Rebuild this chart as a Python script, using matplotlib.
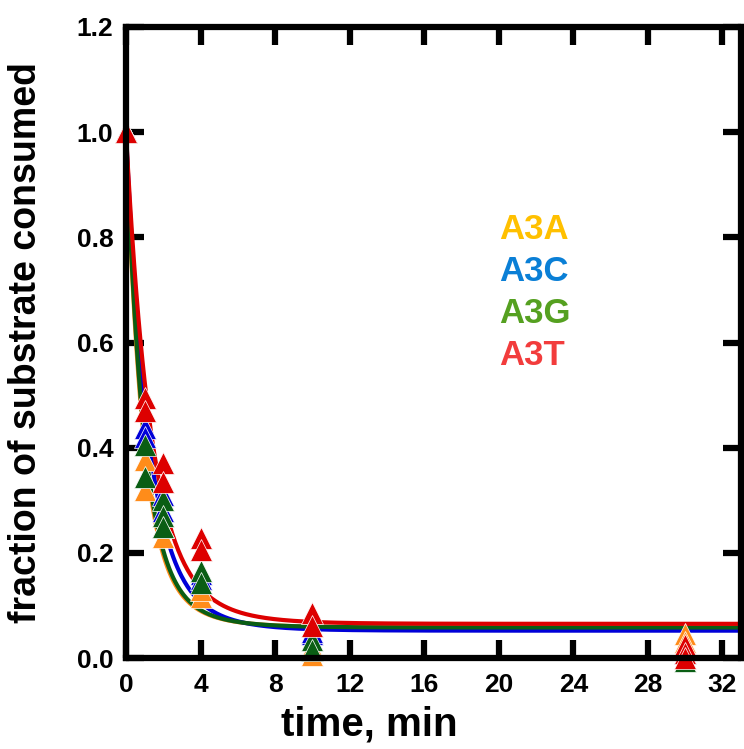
import numpy as np
import matplotlib
matplotlib.use("Agg")
import matplotlib.pyplot as plt

# ---- data ----
series_names = ["A3A", "A3C", "A3G", "A3T"]
marker_colors = ["#FF8C1A", "#0000D8", "#0A5E14", "#DD0000"]
label_colors = ["#FFC000", "#0A7FD6", "#55A020", "#F23C3C"]

a3a_t = [0, 1, 1, 2, 2, 4, 4, 10, 10, 30, 30]
a3a_y = [1.0, 0.376, 0.32, 0.23, 0.25, 0.116, 0.13, 0.005, 0.02, 0.045, 0.03]
a3c_t = [0, 1, 1, 2, 2, 4, 4, 10, 10, 30]
a3c_y = [1.0, 0.437, 0.42, 0.31, 0.28, 0.16, 0.15, 0.045, 0.05, 0.01]
a3g_t = [0, 1, 1, 2, 2, 2, 4, 4, 10, 10, 30]
a3g_y = [1.0, 0.405, 0.344, 0.30, 0.27, 0.25, 0.165, 0.143, 0.035, 0.015, -0.005]
a3t_t = [0, 1, 1, 2, 2, 4, 4, 10, 10, 30, 30, 30]
a3t_y = [1.0, 0.494, 0.47, 0.37, 0.335, 0.228, 0.205, 0.085, 0.06, 0.025, 0.01, 0.0]

times = [a3a_t, a3c_t, a3g_t, a3t_t]
values = [a3a_y, a3c_y, a3g_y, a3t_y]

# fitted decay parameters: plateau, fast amplitude, fast rate, slow rate
fit_plateau = [0.058, 0.052, 0.058, 0.065]
fit_amp_fast = [0.80, 0.77, 0.80, 0.75]
fit_k_fast = [1.15, 0.90, 1.10, 0.80]
fit_k_slow = [0.45, 0.42, 0.45, 0.40]

x_ticks = [0, 4, 8, 12, 16, 20, 24, 28, 32]
y_ticks = [0.0, 0.2, 0.4, 0.6, 0.8, 1.0, 1.2]

# ---- figure ----
fig = plt.figure(figsize=(7.44, 7.49), dpi=100)
ax = fig.add_axes([126 / 744, 1 - 658 / 749, (741 - 126) / 744, (658 - 27) / 749])

tt = np.linspace(0, 33, 600)
for i in range(4):
    C = fit_plateau[i]
    A1 = fit_amp_fast[i]
    A2 = 1.0 - C - A1
    curve = C + A1 * np.exp(-fit_k_fast[i] * tt) + A2 * np.exp(-fit_k_slow[i] * tt)
    ax.plot(tt, curve, color=marker_colors[i], lw=3.0, zorder=2, solid_capstyle="butt")

for i in range(4):
    ax.plot(times[i], values[i], linestyle="none", marker="^", markersize=16.5,
            color=marker_colors[i], markeredgecolor="white", markeredgewidth=0.5,
            zorder=3 + i, clip_on=False)

ax.set_xlim(0, 33)
ax.set_ylim(0, 1.2)
ax.set_xticks(x_ticks)
ax.set_yticks(y_ticks)
ax.set_xticklabels([str(v) for v in x_ticks])
ax.set_yticklabels([f"{v:.1f}" for v in y_ticks])

for s in ax.spines.values():
    s.set_linewidth(4.5)
    s.set_zorder(10)
ax.tick_params(direction="in", length=13, width=4.5, top=True, right=True,
               labelsize=19)
ax.tick_params(axis="x", pad=11)
ax.tick_params(axis="y", pad=9)
for lab in ax.get_xticklabels() + ax.get_yticklabels():
    lab.set_fontweight("bold")
    lab.set_family(["Liberation Sans", "DejaVu Sans"])

ax.set_xlabel("time, min", fontsize=29, fontweight="bold",
              family=["Liberation Sans", "DejaVu Sans"], labelpad=2)
ax.xaxis.set_label_coords(0.395, -0.075)
ax.set_ylabel("fraction of substrate consumed", fontsize=27, fontweight="bold",
              family=["Liberation Sans", "DejaVu Sans"])
ax.yaxis.set_label_coords(-0.133, 0.5)

label_y = [0.815, 0.735, 0.655, 0.575]
for i in range(4):
    ax.text(20.0, label_y[i], series_names[i], color=label_colors[i], fontsize=25,
            fontweight="bold", family=["Liberation Sans", "DejaVu Sans"],
            ha="left", va="center", zorder=20)

fig.savefig("out.png", dpi=100)
